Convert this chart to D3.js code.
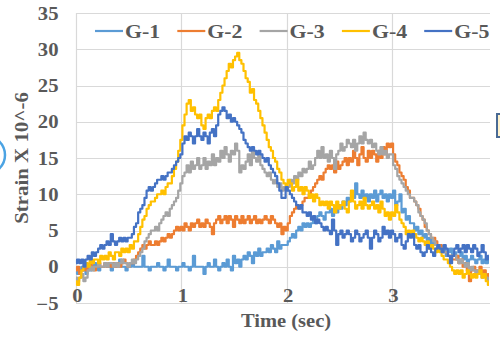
<!DOCTYPE html>
<html>
<head>
<meta charset="utf-8">
<script src="https://cdn.jsdelivr.net/npm/d3@7"></script>
<style>
  html, body { margin: 0; padding: 0; background: #fff; }
  svg { display: block; }
  .lbl { font-family: "Liberation Serif", "Times New Roman", serif; font-weight: bold; fill: #595959; }
</style>
</head>
<body>
<svg id="chart" width="500" height="339"></svg>
<script>
// Strain gauge readings G-1 .. G-5, sampled every 0.02 s from 0 to 3.92 s
const sampleStep = 0.02;
const seriesNames = ["G-1", "G-2", "G-3", "G-4", "G-5"];
const seriesColors = ["#5B9BD5", "#ED7D31", "#A5A5A5", "#FFC000", "#4472C4"];
const yTicks = [-5, 0, 5, 10, 15, 20, 25, 30, 35];
const xTicks = [0, 1, 2, 3];

const g1 = [
  -0.5, -1, -0.5, 0, -0.5, -1, 0, -0.5, 0, 0.5,
  0, -0.5, 0, 0, 0.5, 0, 0, -0.5, 0, 0,
  0, 1, 0, 0, -0.5, 0, 0, 0.5, 0, 0,
  0, 0, 1.5, 0, 0, -0.5, 0, 0, 0, 0.5,
  0, 0, -0.5, 0, 1, 0, 0, 0, -0.5, 0,
  0, 0.5, 0, 0, -0.5, 0, 1.5, 0, 0, 0,
  0, -1, 0, 0.5, 0, 0, 1, 0, -0.5, 0,
  0.5, 0, 1, 0, -0.5, 1.5, 0.5, 1, 0, 1,
  1.5, 1, 2, 1.5, 0.5, 2, 1.5, 2.5, 1.5, 2,
  2, 2.5, 2, 3, 2.5, 2, 3.5, 2.5, 3, 3,
  3, 3.5, 4, 4.5, 4, 5, 5.5, 5, 6, 5.5,
  6, 5.5, 6, 6.5, 6, 7, 7.5, 7, 6.5, 7.5,
  7.5, 8, 7, 8, 7.5, 8.5, 8, 9, 8.5, 9.5,
  9, 10, 9.5, 11.5, 10, 9.5, 10.5, 9.5, 10, 9,
  10, 9.5, 10.5, 9, 10, 10.5, 9.5, 10, 9, 10,
  9.5, 10.5, 8.5, 9, 10, 7.5, 8, 6.5, 7, 6,
  6, 5, 5.5, 4.5, 5, 4, 4.5, 3.5, 4, 3,
  3.5, 3, 2.5, 3, 2, 2.5, 1.5, 2, 2.5, 1.5,
  2, 1, 1.5, 2, 1, 1.5, 0.5, 1, 1.5, 1,
  0.5, 1, 1.5, 0.5, 1, 0.5, 1
];

const g2 = [
  -0.5, 0, -1, -0.5, 0, -0.5, 0, 0.5, 0, -0.5,
  0, 0.5, 0, 0, 0.5, 0, 0.5, 0, 0.5, 0,
  0.5, 0, 0.5, 1, 0.5, 0, 0.5, 0.5, 1, 1.5,
  2, 2.5, 3, 2.5, 3, 3.5, 3, 3, 3.5, 3,
  3.5, 4, 3.5, 4, 4.5, 4, 4.5, 5, 5.5, 5,
  5.5, 5, 6, 5.5, 5, 6, 5.5, 6, 6.5, 5.5,
  6, 5.5, 6.5, 6, 5.5, 4.5, 6, 6.5, 7, 6,
  6.5, 7, 6, 7, 6.5, 5.5, 7, 6.5, 6, 7,
  6, 6.5, 7, 6, 6.5, 7, 6, 6.5, 6, 6.5,
  7, 6.5, 6, 7, 6.5, 6, 5.5, 6, 4.5, 5.5,
  5, 6, 7, 7.5, 8, 8.5, 8, 8.5, 9, 9.5,
  9.5, 10, 10.5, 11, 11.5, 12, 12.5, 12, 13, 13.5,
  14, 13.5, 14, 13, 14.5, 13.5, 14, 14.5, 15, 14,
  15, 14.5, 16, 15, 14, 15.5, 16.5, 15, 14.5, 16,
  15, 16, 15.5, 14.5, 16, 15, 16.5, 15.5, 17, 16.5,
  17, 15.5, 14.5, 14, 13, 12.5, 12, 11, 10.5, 9.5,
  9.5, 9, 8.5, 8, 7, 6.5, 5.5, 5, 4.5, 4,
  4, 3.5, 3, 3, 2.5, 2, 2, 1.5, 1.5, 1,
  1, 1.5, 0.5, 1, 0, 0.5, -0.5, -2, -0.5, 0,
  -0.5, -1, 0, -1, -0.5, -1.5, -1
];

const g3 = [
  -1.5, -2, -1.5, -1, -2, -1.5, -0.5, 0, -0.5, 0,
  0, 0.5, 0, 0, 0.5, 0, 0.5, 0.5, 0, 0.5,
  0, 0.5, 1, 0.5, 0.5, 0, 0.5, 1, 0.5, 1,
  1.5, 2, 2.5, 3.5, 4, 4.5, 5, 5, 5.5, 5,
  6, 6.5, 7, 7.5, 7, 8, 8.5, 9, 9.5, 10.5,
  11.5, 12.5, 13, 14, 13, 14.5, 13.5, 14, 15, 13.5,
  14, 15, 13.5, 14.5, 14, 15.5, 14, 15, 14.5, 16,
  15, 16.5, 15.5, 14.5, 16, 15.5, 17, 16, 13, 14,
  13.5, 14.5, 15.5, 14, 16, 15, 14.5, 15.5, 14, 13.5,
  13, 12.5, 13, 12, 11.5, 12, 11, 11.5, 10.5, 11,
  10.5, 11, 12, 11.5, 12.5, 12, 13, 12.5, 13.5, 13,
  13.5, 14.5, 13.5, 14, 15, 16, 15, 16.5, 15, 15.5,
  14.5, 16, 15, 13.5, 15.5, 16, 17, 16, 16.5, 17.5,
  17, 16.5, 17.5, 16, 17, 18, 17, 18.5, 17.5, 17,
  17.5, 16.5, 17, 16, 15.5, 16.5, 15.5, 16, 15, 15.5,
  15.5, 14, 13.5, 12.5, 12, 11.5, 11, 10.5, 10, 9.5,
  9.5, 9, 8.5, 7.5, 7, 6.5, 6, 5, 4.5, 4,
  3.5, 3, 3, 2.5, 2.5, 2, 2, 1.5, 1.5, 1.5,
  1.5, 1, 0.5, 1, 0.5, 0, 0.5, -0.5, 0, -0.5,
  -1, -0.5, -1, -1.5, -1, -1.5, -2
];

const g4 = [
  -2, -2.5, -1.5, -0.5, 0, 0.5, 0, 1, 0.5, 1,
  1, 0.5, 1.5, 1, 1.5, 1, 2, 1.5, 1, 2,
  2, 1.5, 2.5, 2, 2.5, 2, 3, 2.5, 3.5, 3.5,
  4.5, 5.5, 6.5, 7, 8, 8.5, 9, 9, 9.5, 10,
  10, 10.5, 10, 11, 11.5, 11.5, 12.5, 13.5, 14.5, 16,
  17.5, 19.5, 21, 22.5, 23, 21.5, 22, 21, 20.5, 21,
  19.5, 19, 20.5, 21, 20.5, 21.5, 22, 21.5, 23, 24,
  25, 26, 27, 28, 27.5, 28.5, 29, 29.5, 28.5, 28,
  27, 26, 25.5, 24, 24.5, 23, 22.5, 21.5, 20.5, 19.5,
  18.5, 17.5, 16.5, 16, 15, 14.5, 13.5, 13, 12, 11.5,
  11, 12, 11.5, 10.5, 11, 12, 10.5, 11, 10, 11,
  10.5, 9.5, 10, 9, 10, 9.5, 8.5, 9, 8.5, 9,
  8, 9, 8.5, 7.5, 9, 8, 8.5, 9, 8, 7.5,
  9, 10.5, 9, 8, 8.5, 9, 8, 9.5, 8.5, 8,
  8.5, 9, 8, 8.5, 7.5, 9, 8, 7, 7.5, 6.5,
  7.5, 7, 8.5, 7.5, 6.5, 6, 5.5, 4.5, 5, 4.5,
  5, 4.5, 4, 3.5, 4, 3.5, 3, 3.5, 2.5, 3,
  2.5, 2, 2.5, 2, 1.5, 1, 1, 0.5, 0, -0.5,
  -1, -0.5, -1, -0.5, -1.5, -1, -0.5, -1, -1.5, -1,
  -1.5, -1, -0.5, -1.5, -1, -2, -2.5
];

const g5 = [
  0.5, 1, 0.5, 1, 0, 1, 1.5, 1, 2, 1.5,
  2, 2.5, 3, 2.5, 3, 3.5, 3, 4.5, 3.5, 3,
  3.5, 4, 3.5, 4, 3.5, 4, 4, 4.5, 5.5, 6,
  7.5, 8, 8.5, 9.5, 10.5, 11, 10.5, 11, 11.5, 12,
  12, 12.5, 12, 12.5, 13, 13, 13.5, 14, 14.5, 15,
  15.5, 17, 18, 17.5, 18.5, 18, 17, 18, 19, 18,
  17.5, 18.5, 18, 17, 18.5, 19, 18, 19.5, 21, 21.5,
  22, 21.5, 20.5, 21, 20, 20.5, 20, 19.5, 19, 18.5,
  17.5, 17, 16.5, 16, 16.5, 16, 15.5, 16, 15.5, 15,
  14.5, 15, 14, 13.5, 13, 12.5, 11.5, 10.5, 9.5, 9.5,
  11, 10.5, 10, 9.5, 9, 8.5, 8, 8.5, 7.5, 7.5,
  7, 7.5, 6.5, 7, 6, 6.5, 6, 5.5, 5, 5.5,
  5, 4.5, 6.5, 5, 3, 4.5, 5, 4, 4.5, 5,
  4.5, 3.5, 4, 5, 4.5, 3.5, 4, 4.5, 5, 4,
  2.5, 4, 5, 4.5, 3.5, 4, 5.5, 4.5, 5, 4,
  5, 4.5, 3.5, 4, 4.5, 3, 2.5, 3.5, 4.5, 4,
  4.5, 3, 2.5, 3, 2, 1.5, 2, 3, 2.5, 2,
  1.5, 2.5, 3, 2.5, 2, 3, 2.5, 1.5, 0.5, 1.5,
  2.5, 3, 2, 2.5, 3, 2, 3, 2.5, 2, 3,
  2.5, 1.5, 2, 3, 2, 1, 1.5
];

const seriesValues = [g1, g2, g3, g4, g5];

const svg = d3.select("#chart");
const W = 500, H = 339;
const plot = { left: 76, right: 490, top: 13, bottom: 303 };

const x = d3.scaleLinear().domain([0, 3.93]).range([plot.left, plot.right]);
const y = d3.scaleLinear().domain([-5, 35]).range([plot.bottom, plot.top]);

svg.append("rect").attr("width", W).attr("height", H).attr("fill", "#fff");

// gridlines
const grid = svg.append("g").attr("stroke", "#D9D9D9").attr("stroke-width", 1.2);
grid.selectAll("line.h").data(yTicks).join("line")
  .attr("x1", plot.left).attr("x2", plot.right)
  .attr("y1", d => Math.round(y(d)) + 0.5).attr("y2", d => Math.round(y(d)) + 0.5);
grid.selectAll("line.v").data(xTicks).join("line")
  .attr("y1", plot.top).attr("y2", plot.bottom)
  .attr("x1", d => Math.round(x(d)) + 0.5).attr("x2", d => Math.round(x(d)) + 0.5);

// series lines
const line = d3.line()
  .x((d, i) => x(i * sampleStep))
  .y(d => y(d))
  .curve(d3.curveStep);

const lines = svg.append("g").attr("fill", "none");
seriesValues.forEach((vals, k) => {
  lines.append("path")
    .datum(vals)
    .attr("d", line)
    .attr("stroke", seriesColors[k])
    .attr("stroke-width", 2.2)
    .attr("stroke-linejoin", "round");
});

const stretch = 1.15;

// y axis labels
const yAxis = svg.append("g")
  .attr("transform", `translate(${plot.left},0)`)
  .call(d3.axisLeft(y).tickValues(yTicks).tickSize(0).tickFormat(d3.format("d")));
yAxis.select(".domain").remove();
yAxis.selectAll("text")
  .attr("class", "lbl")
  .attr("font-size", 18)
  .attr("x", 0)
  .attr("dy", "0.34em")
  .attr("transform", `translate(-17.5,0) scale(${stretch},1)`);

// x axis labels, hung just under the zero line
const xAxis = svg.append("g")
  .attr("transform", `translate(0,${y(0)})`)
  .call(d3.axisBottom(x).tickValues(xTicks).tickSize(0).tickFormat(d3.format("d")));
xAxis.select(".domain").remove();
xAxis.selectAll("text")
  .attr("class", "lbl")
  .attr("font-size", 18)
  .attr("y", 0)
  .attr("dy", 0)
  .attr("transform", `translate(1,35) scale(${stretch},1)`);

// axis titles
svg.append("text").attr("class", "lbl")
  .attr("font-size", 19)
  .attr("text-anchor", "middle")
  .attr("transform", `translate(286,327) scale(1.08,1)`)
  .text("Time  (sec)");

svg.append("text").attr("class", "lbl")
  .attr("font-size", 19)
  .attr("text-anchor", "middle")
  .attr("transform", `translate(28,158) rotate(-90) scale(1.1,1)`)
  .text("Strain X 10^-6");

// legend
const legend = svg.append("g");
seriesNames.forEach((name, k) => {
  const lx = 95 + k * 82.3;
  legend.append("line")
    .attr("x1", lx).attr("x2", lx + 28)
    .attr("y1", 31).attr("y2", 31)
    .attr("stroke", seriesColors[k]).attr("stroke-width", 2.2);
  legend.append("text").attr("class", "lbl")
    .attr("font-size", 19)
    .attr("transform", `translate(${lx + 30},38) scale(${stretch},1)`)
    .text(name);
});

// neighbouring page elements at the edges
svg.append("circle")
  .attr("cx", -14).attr("cy", 155).attr("r", 19)
  .attr("fill", "none").attr("stroke", "#4BA3E3").attr("stroke-width", 2.5);
svg.append("rect")
  .attr("x", 497).attr("y", 114).attr("width", 10).attr("height", 23)
  .attr("fill", "#FFF2CC").attr("stroke", "#4A6A94").attr("stroke-width", 2);
</script>
</body>
</html>
